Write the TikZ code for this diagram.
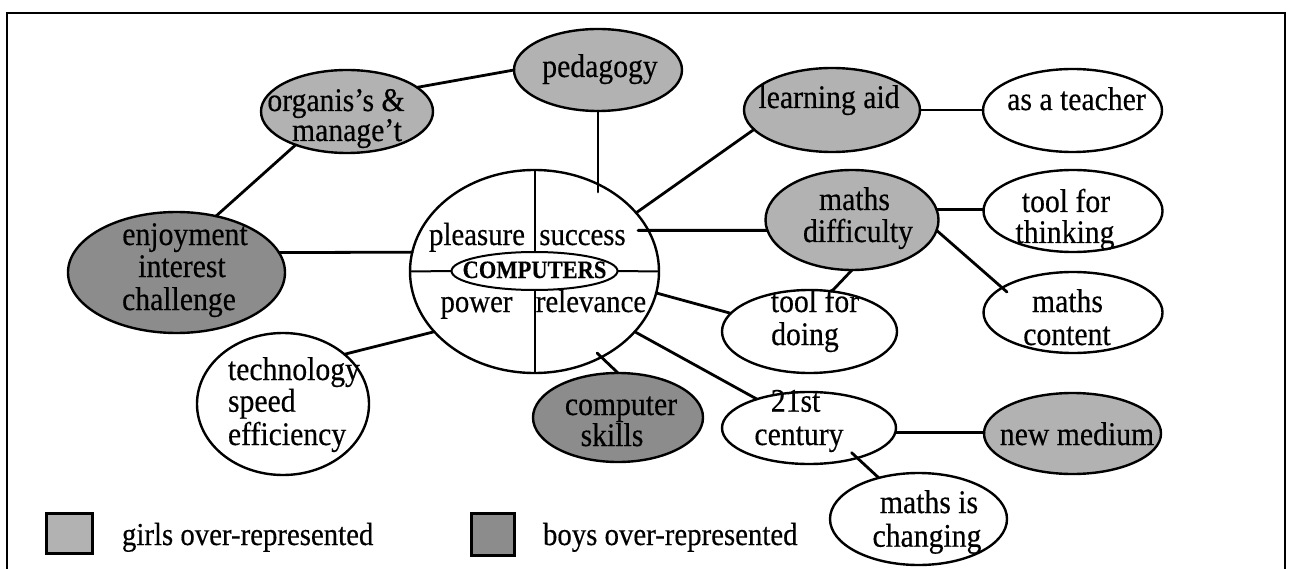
\documentclass[tikz,border=0pt]{standalone}
\usepackage{fontspec}
\setmainfont{Liberation Serif}[FakeStretch=0.9, FakeBold=0.4]
\usetikzlibrary{shapes.geometric}
\begin{document}
\begin{tikzpicture}[x=1pt,y=-1pt,
  conn/.style={line width=2.8pt, line cap=round},
  bub/.style={ellipse, draw, line width=2.4pt, inner sep=0pt, outer sep=0pt},
  girlbub/.style={bub, fill=black!30},
  boybub/.style={bub, fill=black!45},
  plainbub/.style={bub, fill=white},
  txt/.style={anchor=base, inner sep=0pt, outer sep=0pt, font=\fontsize{33}{35}\selectfont},
  ctxt/.style={anchor=base, inner sep=0pt, outer sep=0pt, font=\fontsize{32}{34}\selectfont},
  ltxt/.style={anchor=base west, inner sep=0pt, outer sep=0pt, font=\fontsize{32}{34}\selectfont},
  legbox/.style={draw, line width=3pt, inner sep=0pt, outer sep=0pt}]
\useasboundingbox (0,0) rectangle (1289,569);
% frame
\draw[line width=1.8pt] (7,569) -- (7,13) -- (1285,13) -- (1285,569);

% bubbles
\node[girlbub, minimum width=168pt, minimum height=82pt] (ped) at (598,70) {};
\node[girlbub, minimum width=172pt, minimum height=83pt] (org) at (347,111.5) {};
\node[boybub, minimum width=217pt, minimum height=121pt] (enj) at (176.5,272.5) {};
\node[plainbub, minimum width=249pt, minimum height=203pt] (cen) at (534.5,271.5) {};
\node[plainbub, line width=2pt, minimum width=166pt, minimum height=38pt] (comp) at (534.5,271) {};
\node[girlbub, minimum width=176pt, minimum height=84pt] (lai) at (832,110) {};
\node[plainbub, minimum width=179pt, minimum height=83pt] (tea) at (1072.5,110.5) {};
\node[girlbub, minimum width=173pt, minimum height=100pt] (mdf) at (852,220) {};
\node[plainbub, minimum width=179pt, minimum height=82pt] (tth) at (1073,211) {};
\node[plainbub, minimum width=179pt, minimum height=81pt] (mco) at (1073,312.5) {};
\node[plainbub, minimum width=175pt, minimum height=83pt] (tdo) at (809.5,331.5) {};
\node[plainbub, minimum width=174pt, minimum height=72pt] (ctw) at (809,428) {};
\node[girlbub, minimum width=177pt, minimum height=81pt] (nme) at (1072.5,433.5) {};
\node[plainbub, minimum width=177pt, minimum height=92pt] (mch) at (918.5,519) {};
\node[plainbub, minimum width=172pt, minimum height=142pt] (tec) at (283,404) {};
\node[boybub, minimum width=170pt, minimum height=89pt] (csk) at (618,417.5) {};

% free ends inside ellipses
\coordinate (pedEnd) at (598,192);
\coordinate (mdfIn) at (638,230.4);
\coordinate (mcoIn) at (1007,292);
\coordinate (cskIn) at (597,353);
\coordinate (ctwIn) at (851.6,452.7);

% inner division of the central ellipse
\draw[line width=2pt] (cen.north) -- (comp.north);
\draw[line width=2pt] (comp.south) -- (cen.south);
\draw[line width=2pt] (cen.west) -- (comp.west);
\draw[line width=2pt] (comp.east) -- (cen.east);

% connectors
\draw[conn] (org.19) -- (ped.west);
\draw[conn] (org.213) -- (enj.55);
\draw[conn] (enj.11) -- (cen.171);
\draw[conn] (ped.south) -- (pedEnd);
\draw[conn] (cen.30) -- (lai.194);
\draw[conn] (lai.east) -- (lai.east -| tea.west);
\draw[conn] (mdfIn) -- (mdf.187);
\draw[conn] (mdf.7) -- (mdf.7 -| tth.west);
\draw[conn] (mdf.353) -- (mcoIn);
\draw[conn] (mdf.south) -- (tdo.61);
\draw[conn] (cen.350) -- (tdo.167);
\draw[conn] (cen.329) -- (ctw.151);
\draw[conn] (ctw.357) -- (ctw.357 -| nme.west);
\draw[conn] (ctwIn) -- (mch.134);
\draw[conn] (cskIn) -- (csk.north);
\draw[conn] (cen.211) -- (tec.39);

% texts
\node[txt] (tPed) at (600,77) {pedagogy};
\node[txt] (tOrgA) at (336,111) {organis’s \&};
\node[txt] (tOrgB) at (347,141) {manage’t};
\node[txt] (tEnjA) at (185,245) {enjoyment};
\node[txt] (tEnjB) at (182,277) {interest};
\node[txt] (tEnjC) at (179,310) {challenge};
\node[ctxt] (tPle) at (477,245) {pleasure};
\node[ctxt] (tSuc) at (582.5,245) {success};
\node[ctxt] (tPow) at (476.5,312) {power};
\node[ctxt] (tRel) at (591,312) {relevance};
\node[anchor=base, inner sep=0pt, font=\fontsize{25}{27}\selectfont\bfseries] (tComp) at (534.5,278) {COMPUTERS};
\node[txt] (tLai) at (829,108) {learning aid};
\node[txt] (tTea) at (1076.5,110) {as a teacher};
\node[txt] (tMdfA) at (854.5,210) {maths};
\node[txt] (tMdfB) at (858,242) {difficulty};
\node[txt] (tTthA) at (1066,212) {tool for};
\node[txt] (tTthB) at (1065,243) {thinking};
\node[txt] (tMcoA) at (1067.5,312) {maths};
\node[txt] (tMcoB) at (1067,345) {content};
\node[txt] (tTdoA) at (815,312) {tool for};
\node[txt] (tTdoB) at (805,345) {doing};
\node[txt] (tCtwA) at (795.6,411.7) {21st};
\node[txt] (tCtwB) at (799,445) {century};
\node[txt] (tNme) at (1077,445) {new medium};
\node[txt] (tMchA) at (929,513) {maths is};
\node[txt] (tMchB) at (927,546.7) {changing};
\node[txt] (tCskA) at (621,415) {computer};
\node[txt] (tCskB) at (612,446) {skills};
\node[txt, anchor=base west] (tTecA) at (228,380) {technology};
\node[txt, anchor=base west] (tTecB) at (228,411.7) {speed};
\node[txt, anchor=base west] (tTecC) at (228,445) {efficiency};

% legend
\node[legbox, fill=black!30, minimum width=46pt, minimum height=40pt] (legG) at (69,533) {};
\node[ltxt] (legGt) at (122,545) {girls over-represented};
\node[legbox, fill=black!45, minimum width=43pt, minimum height=42pt] (legB) at (492.5,534) {};
\node[ltxt] (legBt) at (543,545) {boys over-represented};
\end{tikzpicture}
\end{document}
